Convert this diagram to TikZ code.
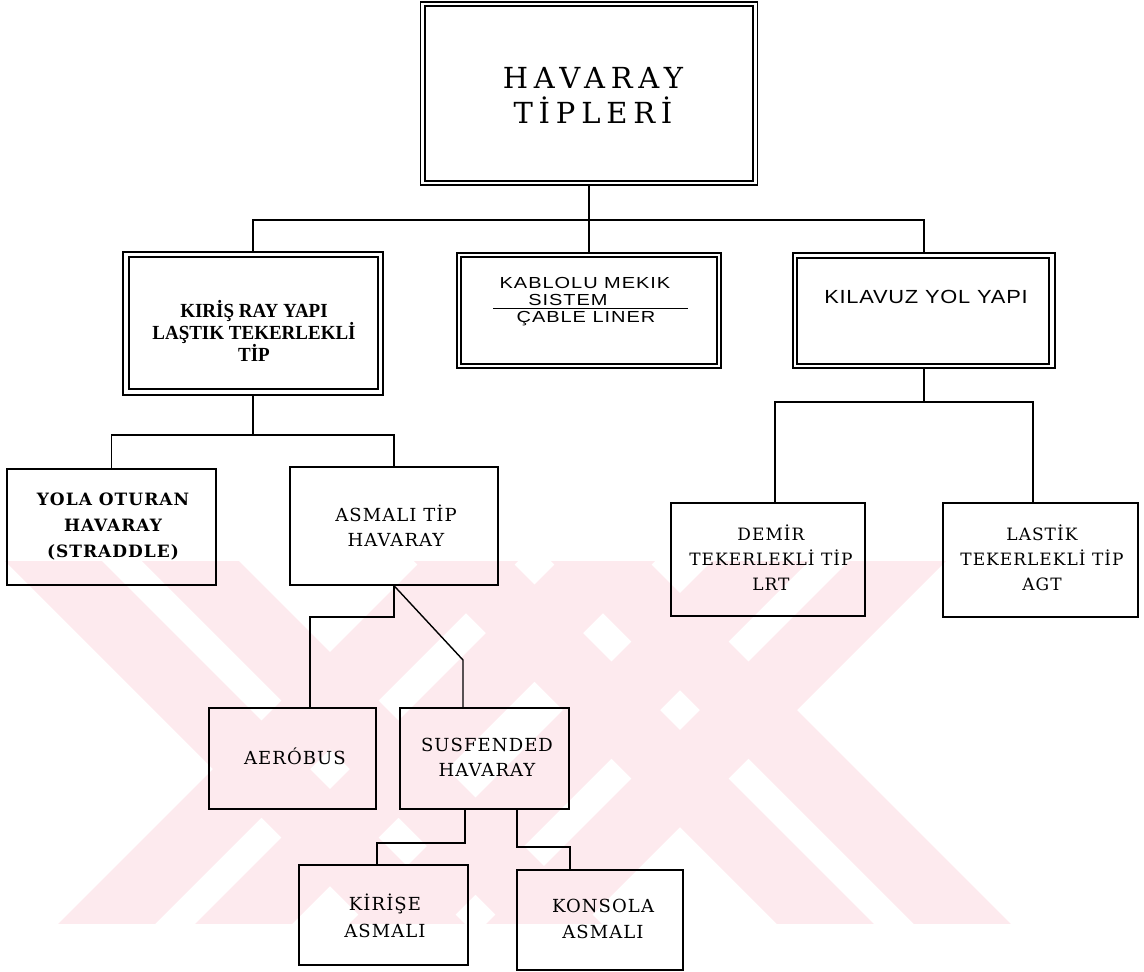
\documentclass[tikz,border=0pt]{standalone}
\usepackage{fontspec}
\setmainfont{Liberation Serif}
\newfontfamily\topfont[LetterSpace=20]{DejaVu Serif}
\newfontfamily\kirisfont[FakeStretch=0.95]{Liberation Serif}
\newfontfamily\scanser[LetterSpace=6]{DejaVu Serif}
\newfontfamily\scansans[FakeStretch=1.15,LetterSpace=4]{Liberation Sans}
\newfontfamily\cablesans[FakeStretch=1.25,LetterSpace=6]{Liberation Sans}
\usetikzlibrary{calc}
\definecolor{wm}{RGB}{253,234,238}
\begin{document}
\begin{tikzpicture}[x=1pt,y=-1pt,
  box/.style={draw=black, line width=1.4pt, inner sep=0pt, rectangle},
  innerline/.style={draw=black, line width=1.9pt},
  conn/.style={draw=black, line width=1.4pt},
  lbl/.style={align=center, inner sep=0pt, text=black}]
\useasboundingbox (0,0) rectangle (1144,972);
% watermark
\begin{scope}
\clip (0,561) rectangle (1144,923);
\foreach \cx/\cy in {330/769, 680/710} {
  \foreach \a/\b in {-117/-20, 20/117} {
    \fill[wm] ({\cx+(\a)-400},{\cy-400}) -- ({\cx+(\b)-400},{\cy-400}) -- ({\cx+(\b)+400},{\cy+400}) -- ({\cx+(\a)+400},{\cy+400}) -- cycle;
    \fill[wm] ({\cx+(\a)+400},{\cy-400}) -- ({\cx+(\b)+400},{\cy-400}) -- ({\cx+(\b)-400},{\cy+400}) -- ({\cx+(\a)-400},{\cy+400}) -- cycle;
  }
}
\end{scope}
% boxes
\node[box, minimum width=337pt, minimum height=183pt] (top) at (589,93.5) {};
\draw[innerline] ([xshift=5pt,yshift=-5pt]top.north west) rectangle ([xshift=-5pt,yshift=5pt]top.south east);
\node[box, minimum width=260pt, minimum height=143pt] (kiris) at (253,323.5) {};
\draw[innerline] ([xshift=7pt,yshift=-6pt]kiris.north west) rectangle ([xshift=-6pt,yshift=7pt]kiris.south east);
\node[box, minimum width=264pt, minimum height=115pt] (kablo) at (589,310.5) {};
\draw[innerline] ([xshift=5pt,yshift=-5pt]kablo.north west) rectangle ([xshift=-5pt,yshift=5pt]kablo.south east);
\node[box, minimum width=262pt, minimum height=115pt] (kilav) at (924,310.5) {};
\draw[innerline] ([xshift=5pt,yshift=-6pt]kilav.north west) rectangle ([xshift=-7pt,yshift=5pt]kilav.south east);
\node[box, minimum width=209pt, minimum height=116pt] (yola) at (111.5,527) {};
\node[box, minimum width=208pt, minimum height=118pt] (asm) at (394,526) {};
\node[box, minimum width=167pt, minimum height=101pt] (aero) at (292.5,758.5) {};
\node[box, minimum width=169pt, minimum height=101pt] (susp) at (484.5,758.5) {};
\node[box, minimum width=169pt, minimum height=100pt] (kirise) at (383.5,915) {};
\node[box, minimum width=166pt, minimum height=100pt] (konsol) at (600,920) {};
\node[box, minimum width=194pt, minimum height=113pt] (demir) at (768,559.5) {};
\node[box, minimum width=195pt, minimum height=114pt] (lastik) at (1040.5,560) {};
% texts
\node[lbl, font=\topfont\fontsize{29}{35}\selectfont] (tTop) at (593,95) {HAVARAY\\TİPLERİ};
\node[lbl, font=\kirisfont\bfseries\fontsize{20}{22}\selectfont] (tKiris) at (254,331) {KIRİŞ RAY YAPI\\LAŞTIK TEKERLEKLİ\\TİP};
\node[lbl, font=\cablesans\fontsize{16}{18}\selectfont] (tKablo1) at (585,283) {KABLOLU MEKIK};
\node[lbl, font=\cablesans\fontsize{16}{18}\selectfont] (tKablo2) at (568,300) {SISTEM};
\node[lbl, font=\cablesans\fontsize{16}{18}\selectfont] (tKablo3) at (586,319) {ÇABLE LINER};
\coordinate (r1) at (493,308);
\coordinate (r2) at (688,308);
\draw[line width=0.8pt] (r1) -- (r2);
\node[lbl, font=\scansans\fontsize{19}{22}\selectfont] (tKilav) at (926,297) {KILAVUZ YOL YAPI};
\node[lbl, font=\scanser\bfseries\fontsize{17}{26}\selectfont] (tYola) at (113,527) {YOLA OTURAN\\HAVARAY\\(STRADDLE)};
\node[lbl, font=\scanser\fontsize{18}{25}\selectfont] (tAsm) at (396,526) {ASMALI TİP\\HAVARAY};
\node[lbl, font=\scanser\fontsize{18}{25}\selectfont] (tAero) at (295,756) {AERÓBUS};
\node[lbl, font=\scanser\fontsize{18}{25}\selectfont] (tSusp) at (487,757) {SUSFENDED\\HAVARAY};
\node[lbl, font=\scanser\fontsize{18}{27}\selectfont] (tKirise) at (385,916) {KİRİŞE\\ASMALI};
\node[lbl, font=\scanser\fontsize{18}{26}\selectfont] (tKonsol) at (603,919) {KONSOLA\\ASMALI};
\node[lbl, font=\scanser\fontsize{17}{25}\selectfont] (tDemir) at (771,558) {DEMİR\\TEKERLEKLİ TİP\\LRT};
\node[lbl, font=\scanser\fontsize{17}{25}\selectfont] (tLastik) at (1042,558) {LASTİK\\TEKERLEKLİ TİP\\AGT};
% connectors
\coordinate (b1) at (589,220);
\draw[conn] (top.south) -- (kablo.north);
\draw[conn] (kiris.north) |- (b1) -| (kilav.north);
\coordinate (b2) at (253,435);
\draw[conn] (kiris.south) -- (b2);
\draw[conn] (yola.north) |- (b2) -| (asm.north);
\coordinate (b3) at (394,617);
\draw[conn] (asm.south) -- (b3) -| ([xshift=17.5pt]aero.north);
\coordinate (b4) at (463,660);
\draw[conn] (asm.south) -- (b4) -- ([xshift=-21.5pt]susp.north);
\coordinate (b5) at (465,843);
\draw[conn] ([xshift=-19.5pt]susp.south) -- (b5) -| ([xshift=-6.5pt]kirise.north);
\coordinate (b6) at (517,847);
\draw[conn] ([xshift=32.5pt]susp.south) -- (b6) -| ([xshift=-30pt]konsol.north);
\coordinate (b7) at (924,402);
\draw[conn] (kilav.south) -- (b7);
\draw[conn] ([xshift=7pt]demir.north) |- (b7) -| ([xshift=-7.5pt]lastik.north);
\end{tikzpicture}
\end{document}
